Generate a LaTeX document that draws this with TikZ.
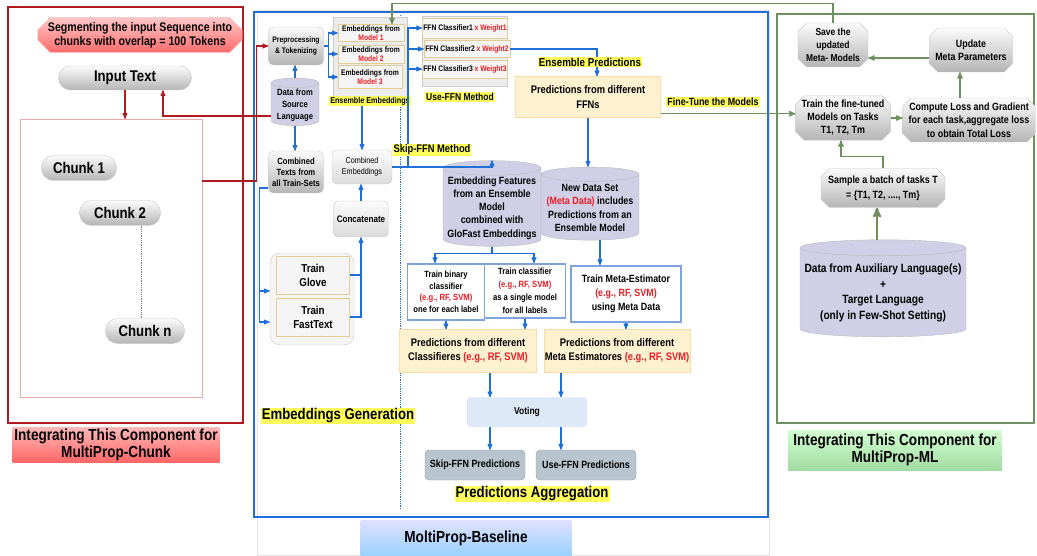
\documentclass[tikz,border=0pt]{standalone}
\usepackage{fontspec}
\setmainfont[FakeStretch=0.85]{Liberation Sans}
\usepackage{tikz}
\usetikzlibrary{positioning, arrows, shapes.geometric, shapes.misc}

\definecolor{chunkred}{HTML}{B0191E}
\definecolor{chunkpink}{HTML}{EBA9A9}
\definecolor{baseblue}{HTML}{1F6FD6}
\definecolor{mlgreen}{HTML}{6E8F5E}
\definecolor{textred}{HTML}{EE1C24}
\definecolor{marker}{HTML}{FFFF5C}
\definecolor{lavender}{HTML}{D1CFE6}
\definecolor{wheat}{HTML}{FDF1CF}
\definecolor{wheatline}{HTML}{E3CD94}
\definecolor{groupgray}{HTML}{ECECEC}
\definecolor{slate}{HTML}{B8C5CF}
\definecolor{votefill}{HTML}{DCE9F9}
\definecolor{clfline}{HTML}{7FA3DC}

\newcommand{\fsz}[2]{\fontsize{#1}{#2}\selectfont}
\newcommand{\redtxt}[1]{\textcolor{textred}{#1}}

\tikzset{
>=stealth', % makes the arrow heads bold
every node/.style={align=center, inner sep=1pt, font=\bfseries}, % bold centred text everywhere
shaded/.style={draw=gray!45, top color=gray!3, bottom color=gray!58}, % grey gradient of the process boxes
lightshade/.style={top color=gray!3, bottom color=gray!28}, % paler gradient
procbox/.style={shaded, rounded corners=5pt}, % rounded process box
pill/.style={shaded, rounded corners=12pt}, % Input Text and the chunks
chunk/.style={pill, minimum height=25pt, font=\bfseries\fsz{15.5}{17}}, % one chunk
octbox/.style={shaded, chamfered rectangle, chamfered rectangle xsep=5pt}, % boxes of the meta-learning loop
redbanner/.style={chamfered rectangle, chamfered rectangle xsep=9pt, draw=chunkpink, top color=red!22, bottom color=red!58}, % segmenting note
db/.style={cylinder, shape border rotate=90, draw=gray!55, fill=lavender}, % data stores
group/.style={draw=gray!40, fill=groupgray}, % grey frame round a set of boxes
embbox/.style={draw=wheatline, fill=gray!8, font=\bfseries\fsz{8}{9}}, % boxes inside a group
wheatbox/.style={draw=wheat!80!orange, fill=wheat}, % prediction sets
clfbox/.style={draw=clfline, line width=1.8pt, fill=white}, % classifiers
tag/.style={fill=marker, inner sep=1pt}, % highlighted captions
bluelink/.style={baseblue, line width=1.1pt}, % blue connector
bluearrow/.style={bluelink, ->}, % blue connector with a head
greenarrow/.style={mlgreen, line width=1.3pt, ->}, % green connector
redarrow/.style={chunkred, line width=1.1pt, ->}, % red connector
caption/.style={minimum height=34pt, font=\bfseries\fsz{16}{17.5}}, % captions under the frames
}

\begin{document}
\begin{tikzpicture}[x=1pt, y=-1pt]
\useasboundingbox (0,0) rectangle (1037,556);

% MultiProp-Chunk
\draw[chunkred, line width=2pt] (8,7) rectangle (243,423);
\node[redbanner, minimum width=204pt, minimum height=35pt, font=\bfseries\fsz{12.5}{14}] (segment) at (140,35) {Segmenting the input Sequence into\\chunks with overlap = 100 Tokens};
\node[pill, minimum width=133pt, minimum height=24pt, font=\bfseries\fsz{15.5}{17}] (input) at (125,78) {Input Text};
\node[draw=chunkpink, minimum width=182pt, minimum height=278pt] (chunks) at (111,258) {};
\node[chunk, minimum width=75pt] (chunk1) at (79,168) {Chunk 1};
\node[chunk, minimum width=81pt] (chunk2) at (120,213) {Chunk 2};
\node[chunk, minimum width=79pt] (chunkn) at (145,331) {Chunk n};
\node[caption, minimum width=207pt, top color=red!28, bottom color=red!60] (chunkcap) at (116,445) {Integrating This Component for\\MultiProp-Chunk};

% MoltiProp-Baseline
\draw[gray!20] (257,10) rectangle (769,555);
\draw[baseblue, line width=2.5pt] (254,12) rectangle (768,517);
\node[caption, minimum width=211pt, minimum height=36pt, top color=blue!12, bottom color=blue!45!cyan!40] (basecap) at (466,538) {MoltiProp-Baseline};
\draw[baseblue, densely dotted, line width=.8pt] (400,15) -- (400,510);

\node[procbox, minimum width=55pt, minimum height=38pt, font=\bfseries\fsz{8}{10.5}] (prep) at (296,46) {Preprocessing\\\& Tokenizing};
\node[db, aspect=0.25, minimum width=48pt, minimum height=46pt, font=\bfseries\fsz{9}{12}] (source) at (295,105) {Data from\\Source\\Language};
\node[group, minimum width=74pt, minimum height=80pt] (ensgrp) at (370,57) {};
\node[embbox, minimum width=66pt, minimum height=17pt] (emb1) at (371,33) {Embeddings from\\\redtxt{Model 1}};
\node[embbox, minimum width=66pt, minimum height=18pt] (emb2) at (371,54) {Embeddings from\\\redtxt{Model 2}};
\node[embbox, minimum width=64pt, minimum height=23pt] (emb3) at (370,77) {Embeddings from\\\redtxt{Model 3}};
\node[tag, font=\bfseries\fsz{8.5}{10}] (enstag) at (370,101) {Ensemble Embeddings};
\node[procbox, minimum width=55pt, minimum height=42pt, font=\bfseries\fsz{9}{11}] (ctexts) at (296,172) {Combined\\Texts from\\all Train-Sets};
\node[procbox, lightshade, minimum width=60pt, minimum height=34pt, font=\fsz{8.5}{11}] (cemb) at (362,167) {Combined\\Embeddings};
\node[procbox, lightshade, minimum width=55pt, minimum height=36pt, font=\bfseries\fsz{9.5}{11}] (concat) at (361,219) {Concatenate};
\node[group, rounded corners=10pt, fill=gray!8, minimum width=84pt, minimum height=92pt] (traingrp) at (312,299) {};
\node[embbox, minimum width=73pt, minimum height=38pt, font=\bfseries\fsz{11.5}{14}] (glove) at (313,275) {Train\\Glove};
\node[embbox, minimum width=73pt, minimum height=38pt, font=\bfseries\fsz{11.5}{14}] (fasttext) at (313,317) {Train\\FastText};
\node[tag, font=\bfseries\fsz{15.5}{17}] (gentag) at (338,416) {Embeddings Generation};

\node[group, minimum width=85pt, minimum height=70pt] (ffngrp) at (465,51) {};
\node[embbox, minimum width=84pt, minimum height=20pt] (ffn1) at (465,28) {FFN Classifier1 \redtxt{x Weight1}};
\node[embbox, minimum width=86pt, minimum height=17pt] (ffn2) at (467,49) {FFN Classifier2 \redtxt{x Weight2}};
\node[embbox, minimum width=85pt, minimum height=18pt] (ffn3) at (465,69) {FFN Classifier3 \redtxt{x Weight3}};
\node[wheatbox, minimum width=145pt, minimum height=41pt, font=\bfseries\fsz{11}{14.5}] (predffn) at (588,97) {Predictions from different\\FFNs};
\node[db, aspect=0.16, minimum width=98pt, minimum height=73pt, font=\bfseries\fsz{10.5}{13.3}] (embfeat) at (492,208) {Embedding Features\\from an Ensemble\\Model\\combined with\\GloFast Embeddings};
\node[db, aspect=0.16, minimum width=98pt, minimum height=73pt, font=\bfseries\fsz{10.5}{13.3}] (newdata) at (590,208) {New Data Set\\\redtxt{(Meta Data)} includes\\Predictions from an\\Ensemble Model};
\node[clfbox, minimum width=77pt, minimum height=56pt, font=\bfseries\fsz{9}{11.5}] (binclf) at (446,292) {Train binary\\classifier\\\redtxt{(e.g., RF, SVM)}\\one for each label};
\node[clfbox, minimum width=81pt, minimum height=54pt, font=\bfseries\fsz{9}{13}] (sngclf) at (525,291) {Train classifier\\\redtxt{(e.g., RF, SVM)}\\as a single model\\for all labels};
\node[clfbox, minimum width=110pt, minimum height=56pt, font=\bfseries\fsz{10.5}{14}] (metaest) at (626,294) {Train Meta-Estimator\\\redtxt{(e.g., RF, SVM)}\\using Meta Data};
\node[wheatbox, minimum width=137pt, minimum height=43pt, font=\bfseries\fsz{11}{14}] (predclf) at (468,351) {Predictions from different\\Classifieres \redtxt{(e.g., RF, SVM)}};
\node[wheatbox, minimum width=146pt, minimum height=43pt, font=\bfseries\fsz{11}{14}] (predmeta) at (617,351) {Predictions from different\\Meta Estimatores \redtxt{(e.g., RF, SVM)}};
\node[draw=blue!15, fill=votefill, rounded corners=4pt, minimum width=120pt, minimum height=29pt, font=\bfseries\fsz{10}{12}] (voting) at (527,412) {Voting};
\node[draw=slate!80!black, fill=slate, rounded corners=4pt, minimum width=100pt, minimum height=30pt, font=\bfseries\fsz{10.5}{12}] (skippred) at (475,465) {Skip-FFN Predictions};
\node[draw=slate!80!black, fill=slate, rounded corners=4pt, minimum width=100pt, minimum height=30pt, font=\bfseries\fsz{10.5}{12}] (usepred) at (586,465) {Use-FFN Predictions};
\node[tag, font=\bfseries\fsz{15.5}{17}] (aggtag) at (532,494) {Predictions Aggregation};

% MultiProp-ML
\draw[mlgreen, line width=2pt] (777,14) rectangle (1034,423);
\node[octbox, minimum width=70pt, minimum height=44pt, font=\bfseries\fsz{10}{13}] (save) at (833,45) {Save the\\updated\\Meta- Models};
\node[octbox, minimum width=78pt, minimum height=44pt, font=\bfseries\fsz{10.5}{13}] (update) at (971,50) {Update\\Meta Parameters};
\node[octbox, minimum width=90pt, minimum height=43pt, font=\bfseries\fsz{10.5}{13}] (trainft) at (843,118) {Train the fine-tuned\\Models on Tasks\\T1, T2, Tm};
\node[octbox, minimum width=132pt, minimum height=44pt, font=\bfseries\fsz{10.5}{13.3}] (compute) at (969,120) {Compute Loss and Gradient\\for each task,aggregate loss\\to obtain Total Loss};
\node[octbox, minimum width=124pt, minimum height=39pt, font=\bfseries\fsz{10.5}{15}] (sample) at (883,188) {Sample a batch of tasks T\\= \{T1, T2, ...., Tm\}};
\node[db, aspect=0.1, minimum width=166pt, minimum height=97pt, font=\bfseries\fsz{12}{15.5}] (auxdata) at (883,293) {Data from Auxiliary Language(s)\\+\\Target Language\\(only in Few-Shot Setting)};
\node[caption, minimum width=214pt, minimum height=40pt, top color=green!18!white, bottom color=green!45!gray!50] (mlcap) at (895,450) {Integrating This Component for\\MultiProp-ML};

% connectors
\draw[redarrow] (input.south) -- (input.south |- chunks.north);
\draw[gray, densely dotted, line width=.8pt] ([xshift=21pt]chunk2.south) -- ([xshift=21pt]chunk2.south |- chunkn.north);
\draw[redarrow] ([yshift=77pt]chunks.east) -- ++(54,0) |- (prep.west);
\draw[redarrow] ([yshift=-11pt]source.west) -| ([xshift=38pt]input.south);

\draw[bluearrow] (source.north) -- (source.north |- prep.south);
\draw[bluearrow] (source.south) -- (source.south |- ctexts.north);
\draw[bluelink] (prep.east) -- ++(5,0) coordinate (fork);
\draw[bluearrow] (fork) |- (emb1.west);
\draw[bluearrow] (fork) |- (emb2.west);
\draw[bluearrow] (fork) |- (emb3.west);
\draw[bluearrow] (enstag.south -| cemb.north) -- (cemb.north);
\draw[bluearrow] (concat.north) -- (concat.north |- cemb.south);
\draw[bluearrow] (glove.east) -| (concat.south);
\draw[bluelink] (fasttext.east) -| (concat.south |- glove.east);
\draw[bluelink] ([yshift=-16pt]ctexts.west) -- ++(-9,0) coordinate (drop);
\draw[bluearrow] (drop) |- ([yshift=8pt]traingrp.west);
\draw[bluearrow] (drop) |- ([yshift=-23pt]traingrp.west);

\coordinate (hub) at (408,167);
\draw[bluelink] (cemb.east) -- (hub);
\draw[bluearrow] (hub) |- (ffn1.west);
\draw[bluearrow] (hub) |- (ffn2.west);
\draw[bluearrow] (hub) |- (ffn3.west);
\draw[bluearrow] (hub) -| (embfeat.north);
\draw[bluearrow] (ffn2.east) -| ([xshift=9pt]predffn.north);
\draw[bluearrow] (predffn.south) -- (predffn.south |- newdata.north);
\draw[bluelink] (embfeat.south) -- ++(0,7) coordinate (split);
\draw[bluearrow] (split) -| ([xshift=-11pt]binclf.north);
\draw[bluearrow] (split) -| ([xshift=9pt]sngclf.north);
\draw[bluearrow] ([xshift=10pt]newdata.south) -- ([xshift=10pt]newdata.south |- metaest.north);
\draw[bluearrow] (binclf.south) -- (binclf.south |- predclf.north);
\draw[bluearrow] (sngclf.south) -- (sngclf.south |- predclf.north);
\draw[bluearrow] (metaest.south) -- (metaest.south |- predmeta.north);
\draw[bluearrow] ([xshift=22pt]predclf.south) -- ([xshift=22pt]predclf.south |- voting.north);
\draw[bluearrow] ([xshift=-56pt]predmeta.south) -- ([xshift=-56pt]predmeta.south |- voting.north);
\draw[bluearrow] ([xshift=-37pt]voting.south) -- ([xshift=-37pt]voting.south |- skippred.north);
\draw[bluearrow] ([xshift=34pt]voting.south) -- ([xshift=34pt]voting.south |- usepred.north);
\node[tag, font=\bfseries\fsz{11}{12}] (skiptag) at (432,150) {Skip-FFN Method};
\node[tag, font=\bfseries\fsz{10}{12}] (usetag) at (460,97) {Use-FFN Method};
\node[tag, font=\bfseries\fsz{11.5}{13}] (enspredtag) at (590,62) {Ensemble Predictions};

\draw[greenarrow] ([yshift=4pt]predffn.south east) -- ([yshift=4pt]predffn.south east -| trainft.west);
\node[tag, font=\bfseries\fsz{10.5}{12}] (finetag) at (713,102) {Fine-Tune the Models};
\draw[greenarrow] (save.north) -- ++(0,-19) -| ([xshift=21pt]emb1.north);
\draw[greenarrow] ([yshift=-8pt]update.west) -- ([yshift=-8pt]update.west -| save.east);
\draw[greenarrow] (trainft.east) -- (trainft.east -| compute.west);
\draw[greenarrow] ([xshift=-9pt]compute.north) -- ([xshift=-9pt]compute.north |- update.south);
\draw[greenarrow] (sample.north) -- ++(0,-12) -| ([xshift=-2pt]trainft.south);
\draw[greenarrow, line width=2.2pt] ([xshift=-6pt]auxdata.north) -- ([xshift=-6pt]auxdata.north |- sample.south);
\end{tikzpicture}
\end{document}
